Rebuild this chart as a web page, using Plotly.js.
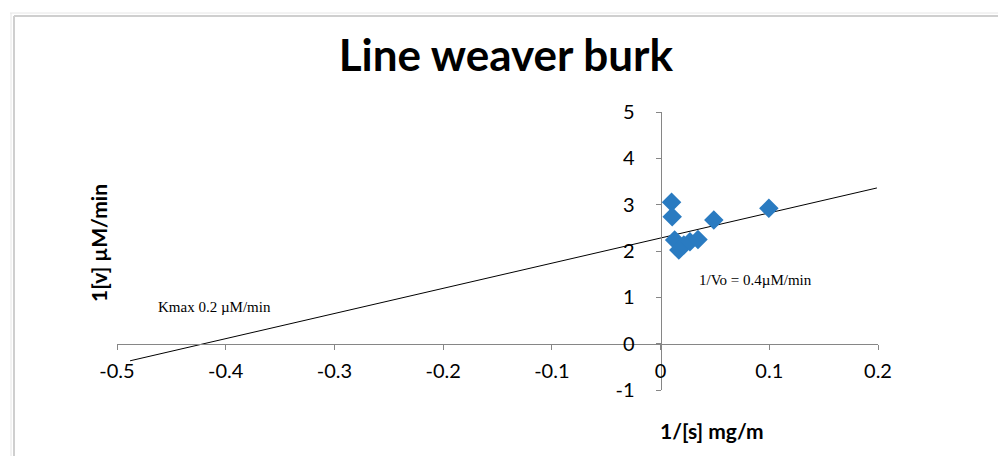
<!DOCTYPE html>
<html>
<head>
<meta charset="utf-8">
<script src="https://cdn.plot.ly/plotly-3.0.1.min.js"></script>
<style>html,body{margin:0;padding:0;background:#fff;}#chart{width:998px;height:456px;}</style>
</head>
<body>
<div id="chart"></div>
<script>
// Data
const invS = [0.0101, 0.0107, 0.0129, 0.0168, 0.0214, 0.027, 0.0344, 0.049, 0.0996];
const invV = [3.05, 2.74, 2.24, 2.02, 2.13, 2.20, 2.25, 2.67, 2.92];
const trendSlope = 5.43;
const trendIntercept = 2.28;
const trendX = [-0.488, 0.199];
const xTickVals = [-0.5, -0.4, -0.3, -0.2, -0.1, 0, 0.1, 0.2];
const xTickText = ["-0.5", "-0.4", "-0.3", "-0.2", "-0.1", "0", "0.1", "0.2"];
const yTickVals = [-1, 0, 1, 2, 3, 4, 5];
const yTickText = ["-1", "0", "1", "2", "3", "4", "5"];

const xRange = [-0.5, 0.2];
const yRange = [-1, 5];

const trendY = trendX.map(x => trendSlope * x + trendIntercept);

const font = "Lato, 'Open Sans', sans-serif";
const serif = "'Liberation Serif', 'Times New Roman', serif";

const L = 117, R = 120, T = 112, B = 66;
const W = 998, H = 456;
const pw = W - L - R, ph = H - T - B;
const px2fx = p => (p - L) / pw;
const px2fy = p => (H - B - p) / ph;

const traces = [
  {
    x: trendX, y: trendY, type: 'scatter', mode: 'lines',
    line: {color: '#000000', width: 1}, hoverinfo: 'skip', showlegend: false
  },
  {
    x: invS, y: invV, type: 'scatter', mode: 'markers',
    marker: {symbol: 'diamond', size: 15, color: '#2a7bc1', line: {width: 0}},
    showlegend: false
  }
];

const layout = {
  width: W, height: H,
  margin: {l: L, r: R, t: T, b: B},
  paper_bgcolor: '#ffffff', plot_bgcolor: 'rgba(0,0,0,0)',
  showlegend: false,
  title: {
    text: '<b>Line weaver burk</b>',
    font: {family: font, size: 44, color: '#000000'},
    x: 0.511, xref: 'paper', xanchor: 'center',
    y: 1 - 56 / H, yref: 'container', yanchor: 'middle'
  },
  xaxis: {
    range: xRange, domain: [0, 1],
    anchor: 'free', position: (0 - yRange[0]) / (yRange[1] - yRange[0]),
    showline: true, linecolor: '#868686', linewidth: 1,
    showgrid: false, zeroline: false,
    ticks: 'outside', ticklen: 5, tickcolor: '#868686', tickwidth: 1,
    tickvals: xTickVals, ticktext: xTickText,
    ticklabelstandoff: 4,
    tickfont: {family: font, size: 20, color: '#000000'}
  },
  yaxis: {
    range: yRange, domain: [0, 1],
    anchor: 'free', position: (0 - xRange[0]) / (xRange[1] - xRange[0]),
    showline: true, linecolor: '#868686', linewidth: 1,
    showgrid: false, zeroline: false,
    ticks: 'outside', ticklen: 5, tickcolor: '#868686', tickwidth: 1,
    tickvals: yTickVals, ticktext: yTickText,
    ticklabelstandoff: 17,
    tickfont: {family: font, size: 20, color: '#000000'}
  },
  annotations: [
    {
      text: '<b>1[v] µM/min</b>', textangle: -90,
      xref: 'paper', yref: 'paper', x: px2fx(98), y: px2fy(243),
      xanchor: 'center', yanchor: 'middle', showarrow: false,
      font: {family: font, size: 21, color: '#000000'}
    },
    {
      text: '<b>1/[s] mg/m</b>',
      xref: 'paper', yref: 'paper', x: px2fx(712), y: px2fy(430),
      xanchor: 'center', yanchor: 'middle', showarrow: false,
      font: {family: font, size: 21, color: '#000000'}
    },
    {
      text: '1/Vo = 0.4µM/min',
      xref: 'paper', yref: 'paper', x: px2fx(755), y: px2fy(280),
      xanchor: 'center', yanchor: 'middle', showarrow: false,
      font: {family: serif, size: 15, color: '#000000'}
    },
    {
      text: 'Kmax 0.2 µM/min',
      xref: 'paper', yref: 'paper', x: px2fx(214), y: px2fy(307),
      xanchor: 'center', yanchor: 'middle', showarrow: false,
      font: {family: serif, size: 15, color: '#000000'}
    }
  ],
  shapes: [
    {type: 'line', xref: 'paper', yref: 'paper',
     x0: px2fx(14), x1: px2fx(998), y0: px2fy(16), y1: px2fy(16),
     line: {color: '#cfcfcf', width: 2}},
    {type: 'line', xref: 'paper', yref: 'paper',
     x0: px2fx(14), x1: px2fx(14), y0: px2fy(16), y1: px2fy(456),
     line: {color: '#cfcfcf', width: 2}},
    {type: 'line', xref: 'paper', yref: 'paper',
     x0: px2fx(10), x1: px2fx(998), y0: px2fy(13), y1: px2fy(13),
     line: {color: '#e6e6e6', width: 1}},
    {type: 'line', xref: 'paper', yref: 'paper',
     x0: px2fx(11), x1: px2fx(11), y0: px2fy(13), y1: px2fy(456),
     line: {color: '#e6e6e6', width: 1}}
  ]
};

Plotly.newPlot('chart', traces, layout, {displayModeBar: false, staticPlot: true});
</script>
</body>
</html>
